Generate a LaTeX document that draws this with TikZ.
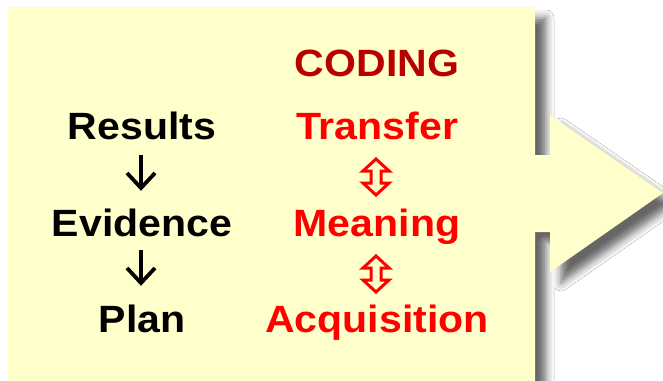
\documentclass[tikz,border=0pt]{standalone}
\usepackage{fontspec}
\setmainfont{Liberation Sans}[FakeStretch=1.08]
\usetikzlibrary{shadows.blur}
\definecolor{bgyellow}{HTML}{FFFFCC}
\definecolor{codingred}{HTML}{B80000}
\definecolor{txtred}{HTML}{FF0000}
\begin{document}
\begin{tikzpicture}[x=1pt,y=-1pt,
  lbl/.style={font=\fontsize{38}{40}\selectfont\bfseries, anchor=base, inner sep=0pt},
  blkarr/.style={line width=3.8pt, black, line join=miter, line cap=butt},
  redarr/.style={line width=3pt, txtred, fill=bgyellow, line join=miter},
  panel/.style={fill=bgyellow, blur shadow={shadow xshift=11pt, shadow yshift=-11pt, shadow blur radius=8pt, shadow opacity=60}}]
\useasboundingbox (0,0) rectangle (663,380);
\fill[white] (0,0) rectangle (663,380);
\path[panel] (8,7) -- (535,7) -- (535,155) -- (550,155) -- (550,115) -- (663,193)
  -- (550,272) -- (550,232) -- (535,232) -- (535,395) -- (8,395) -- cycle;
% texts
\node[lbl, text=codingred] (coding) at (377,76) {CODING};
\node[lbl] (results) at (142,139) {Results};
\node[lbl] (evidence) at (142,236) {Evidence};
\node[lbl] (plan) at (142,332) {Plan};
\node[lbl, text=txtred] (transfer) at (377,139) {Transfer};
\node[lbl, text=txtred] (meaning) at (377,236) {Meaning};
\node[lbl, text=txtred] (acquisition) at (377,332) {Acquisition};
% black down arrows
\coordinate (a1s) at (141,155); \coordinate (a1e) at (141,188);
\coordinate (a2s) at (141,250); \coordinate (a2e) at (141,283);
\draw[blkarr] (a1s) -- (a1e);
\draw[blkarr] (a1e) ++(-14,-15) -- (a1e) -- ++(14,-15);
\draw[blkarr] (a2s) -- (a2e);
\draw[blkarr] (a2e) ++(-14,-15) -- (a2e) -- ++(14,-15);
% red hollow double arrows
\coordinate (r1) at (376,177);
\coordinate (r2) at (376,274);
\foreach \c in {r1,r2}{
  \draw[redarr] (\c) ++(0,-18) -- ++(13,12) -- ++(-8,0) -- ++(0,12) -- ++(8,0)
    -- ++(-13,12) -- ++(-13,-12) -- ++(8,0) -- ++(0,-12) -- ++(-8,0) -- cycle;
}
\end{tikzpicture}
\end{document}
